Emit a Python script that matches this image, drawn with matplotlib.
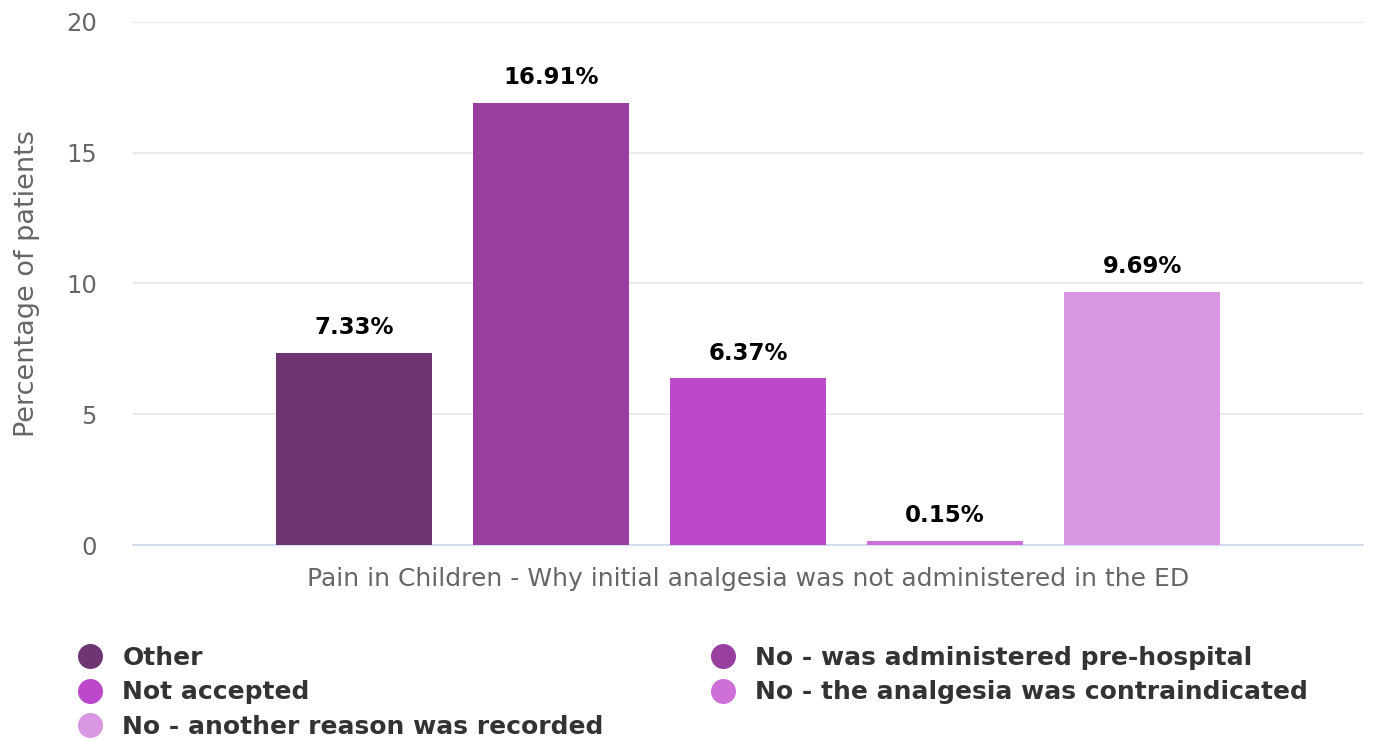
import numpy as np
import matplotlib.pyplot as plt
from matplotlib.lines import Line2D

categories = [
    "Other",
    "No - was administered pre-hospital",
    "Not accepted",
    "No - the analgesia was contraindicated",
    "No - another reason was recorded",
]
values = [7.33, 16.91, 6.37, 0.15, 9.69]
colors = ["#6e3572", "#973e9f", "#bc48cc", "#cd6fd6", "#d997e2"]
yticks = [0, 5, 10, 15, 20]

fig = plt.figure(figsize=(13.73, 7.40), dpi=100)
ax = fig.add_axes([0.0969, 0.2635, 0.8958, 0.7068])

x = np.arange(len(values))
ax.bar(x, values, width=0.79, color=colors, zorder=3)

for xi, v in zip(x, values):
    ax.annotate(f"{v:.2f}%", (xi, v), xytext=(0, 10), textcoords="offset points",
                ha="center", va="bottom", fontsize=16.5, fontweight="bold", color="#000000")

ax.set_xlim(-1.12, 5.12)
ax.set_ylim(0, 20)
ax.set_yticks(yticks)
ax.set_xticks([])
ax.grid(axis="y", color="#e6e6e6", linewidth=1.2, zorder=0)
for s in ["top", "right", "left"]:
    ax.spines[s].set_visible(False)
ax.spines["bottom"].set_color("#ccd6eb")
ax.spines["bottom"].set_linewidth(1.2)
ax.tick_params(axis="y", length=0, labelsize=17.5, labelcolor="#666666", pad=26)
ax.set_ylabel("Percentage of patients", fontsize=19.5, color="#666666", labelpad=19)
ax.set_xlabel("Pain in Children - Why initial analgesia was not administered in the ED",
              fontsize=18, color="#666666", labelpad=16)

order = [0, 2, 4, 1, 3]
handles = [Line2D([], [], marker="o", linestyle="none", markersize=17,
                  markerfacecolor=colors[i], markeredgecolor=colors[i]) for i in order]
labels = [categories[i] for i in order]
fig.legend(handles, labels, ncol=2, loc="upper left", bbox_to_anchor=(0.040, 0.141),
           frameon=False, prop={"size": 18, "weight": "bold"}, labelcolor="#333333",
           handletextpad=0.3, columnspacing=3.75, labelspacing=0.43, borderaxespad=0)

fig.savefig("out.png", dpi=100)
